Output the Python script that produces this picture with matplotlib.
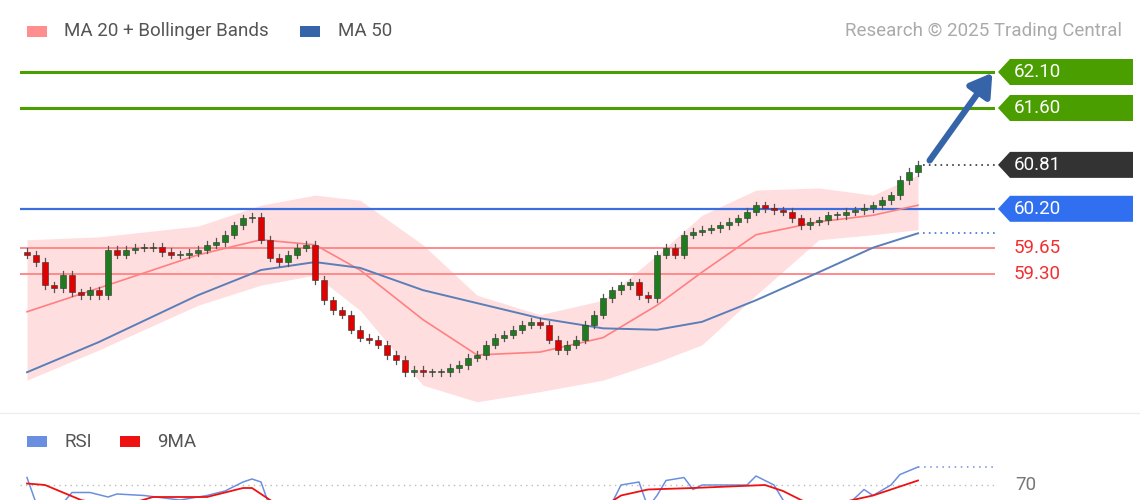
import matplotlib
matplotlib.use("Agg")
import matplotlib.pyplot as plt
from matplotlib.patches import Polygon, Rectangle
import numpy as np

plt.rcParams['font.family'] = ['Roboto', 'DejaVu Sans']
FS = 13.5

closes = [59.56,59.46,59.14,59.10,59.28,59.04,59.00,59.07,59.00,59.63,
          59.56,59.63,59.66,59.66,59.67,59.60,59.56,59.56,59.59,59.63,
          59.70,59.74,59.84,59.97,60.07,60.09,59.77,59.52,59.46,59.56,
          59.66,59.70,59.21,58.93,58.79,58.73,58.52,58.41,58.38,58.31,
          58.17,58.10,57.93,57.96,57.93,57.93,57.93,57.99,58.03,58.13,
          58.17,58.31,58.41,58.45,58.52,58.59,58.63,58.59,58.38,58.24,
          58.31,58.38,58.59,58.73,58.96,59.07,59.14,59.18,59.00,58.96,
          59.56,59.66,59.56,59.84,59.88,59.91,59.93,59.97,60.02,60.07,
          60.16,60.25,60.21,60.18,60.16,60.07,59.97,60.02,60.04,60.11,
          60.11,60.16,60.18,60.21,60.25,60.32,60.39,60.60,60.71,60.81]
first_open = 59.60
ind_x = [0,8,19,26,32,37,44,50,57,64,70,75,81,88,94,99]
bb_upper = [59.77,59.81,59.96,60.25,60.39,60.32,59.70,59.00,58.73,58.93,59.56,60.11,60.46,60.49,60.39,60.67]
bb_lower = [57.82,58.24,58.86,59.14,59.28,58.79,57.75,57.52,57.66,57.82,58.07,58.31,59.00,59.77,59.84,59.91]
ma20 = [58.77,59.10,59.56,59.77,59.70,59.35,58.66,58.17,58.21,58.41,58.86,59.32,59.84,60.02,60.11,60.25]
ma50 = [57.93,58.35,59.00,59.35,59.46,59.38,59.07,58.89,58.68,58.54,58.52,58.63,58.93,59.32,59.66,59.86]
rsi_x = [0,1,3,4,5,7,9,10,13,17,20,22,24,25,26,27,30,50,64,65,66,68,69,70,71,73,74,75,80,81,83,84,86,90,93,94,96,97,99]
rsi = [75,58,52,58,65,65,62,64,63,60,63,66,72,74,72,55,45,30,45,58,70,72,55,63,73,75,67,70,70,76,70,60,50,50,67,63,70,77,82]
ma9_x = [0,2,6,10,14,20,24,25,27,30,60,66,69,74,82,84,86,88,94,99]
ma9 = [71,70,60,55,62,62,68,68,60,50,40,63,67,68,70,66,60,55,63,73]
levels = [62.10, 61.60, 60.81, 60.20, 59.65, 59.30]

W, H = 1140, 500
fig = plt.figure(figsize=(11.4, 5), dpi=100)
fig.patch.set_facecolor("white")

def px_to_x(px): return (px - 27) / 9.0
def px_to_p(py): return 63.1 - py / 72.0

ax = fig.add_axes([20/W, 1-410/H, 975/W, 365/H])
ax.set_xlim(px_to_x(20), px_to_x(995))
ax.set_ylim(px_to_p(410), px_to_p(45))
ax.axis("off")

ax.fill_between(ind_x, bb_lower, bb_upper, color="#ffd6d9", alpha=0.8, lw=0, zorder=1)
ax.plot(ind_x, ma20, color="#ff8080", lw=1.2, zorder=3)
ax.plot(ind_x, ma50, color="#5a7fb8", lw=1.4, zorder=3)

ax.axhline(62.10, color="#4a9e00", lw=2.2, zorder=2)
ax.axhline(61.60, color="#4a9e00", lw=2.2, zorder=2)
ax.axhline(60.20, color="#3b6fe0", lw=1.6, zorder=2)
ax.axhline(59.65, color="#ff8a8a", lw=1.4, zorder=2)
ax.axhline(59.30, color="#ff8a8a", lw=1.4, zorder=2)

n = len(closes)
opens = [first_open] + closes[:-1]
for i in range(n):
    o, c = opens[i], closes[i]
    hi, lo = max(o, c) + 0.05, min(o, c) - 0.05
    col = "#1e7b1e" if c >= o else "#e00000"
    ax.plot([i, i], [lo, hi], color="#555555", lw=0.9, zorder=4)
    h = max(abs(c - o), 0.015)
    ax.add_patch(Rectangle((i - 0.32, min(o, c)), 0.64, h, facecolor=col,
                           edgecolor="#333333", lw=0.4, zorder=5))

xe = px_to_x(995)
ax.plot([n - 1 + 0.5, xe], [closes[-1]]*2, color="#333333", lw=1.2, ls=(0, (1, 2.5)), zorder=2)
ax.plot([ind_x[-1] + 0.5, xe], [ma50[-1]]*2, color="#3b6fe0", lw=1.2, ls=(0, (1, 2.5)), zorder=2)

ax.annotate("", xy=(px_to_x(994), 62.12), xytext=(px_to_x(928), 60.84),
            arrowprops=dict(arrowstyle="-|>,head_width=0.8,head_length=1.3", color="#3565a8", lw=4.5),
            zorder=6, annotation_clip=False)

tag_cols = ["#4a9e00", "#4a9e00", "#333333", "#2f6ff0"]
x0, x1, x2 = px_to_x(998), px_to_x(1010), px_to_x(1133)
hh = 13 / 72.0
for lv, colr in zip(levels[:4], tag_cols):
    ax.add_patch(Polygon([[x0, lv], [x1, lv+hh], [x2, lv+hh], [x2, lv-hh], [x1, lv-hh]],
                         closed=True, facecolor=colr, edgecolor="none", clip_on=False, zorder=6))
    ax.text(px_to_x(1014), lv, f"{lv:.2f}", color="white", fontsize=FS, va="center",
            ha="left", clip_on=False, zorder=7)
for lv in levels[4:]:
    ax.text(px_to_x(1014), lv, f"{lv:.2f}", color="#f03030", fontsize=FS, va="center",
            ha="left", clip_on=False, zorder=7)

fig.patches.append(Rectangle((27/W, 1-37/H), 20/W, 11/H, transform=fig.transFigure, facecolor="#ff8f8f", edgecolor="none"))
fig.text(64/W, 1-31/H, "MA 20 + Bollinger Bands", fontsize=FS, color="#555555", va="center")
fig.patches.append(Rectangle((300/W, 1-37/H), 20/W, 11/H, transform=fig.transFigure, facecolor="#3565a8", edgecolor="none"))
fig.text(338/W, 1-31/H, "MA 50", fontsize=FS, color="#555555", va="center")
fig.text(1122/W, 1-31/H, "Research © 2025 Trading Central", fontsize=FS, color="#aaaaaa", va="center", ha="right")

fig.lines.append(plt.Line2D([0, 1], [1-413/H]*2, transform=fig.transFigure, color="#eeeeee", lw=1))

fig.patches.append(Rectangle((27/W, 1-447/H), 20/W, 11/H, transform=fig.transFigure, facecolor="#6b8fe0", edgecolor="none"))
fig.text(64/W, 1-442/H, "RSI", fontsize=FS, color="#555555", va="center")
fig.patches.append(Rectangle((120/W, 1-447/H), 20/W, 11/H, transform=fig.transFigure, facecolor="#ee1111", edgecolor="none"))
fig.text(157/W, 1-442/H, "9MA", fontsize=FS, color="#555555", va="center")

ax2 = fig.add_axes([20/W, 0, 975/W, 45/H])
ax2.set_xlim(px_to_x(20), px_to_x(995))
ax2.set_ylim(60, 90)
ax2.axis("off")
ax2.axhline(70, color="#bbbbbb", lw=1, ls=(0, (1, 3)))
ax2.plot(rsi_x, rsi, color="#6b8fe0", lw=1.1)
ax2.plot(ma9_x, ma9, color="#ee1111", lw=1.3)
ax2.plot([rsi_x[-1], px_to_x(993)], [rsi[-1]]*2, color="#6b8fe0", lw=1.1, ls=(0, (1, 3)))
fig.text(1015/W, 1-485/H, "70", fontsize=FS, color="#777777", va="center")

fig.savefig("out.png", dpi=100, facecolor="white")
